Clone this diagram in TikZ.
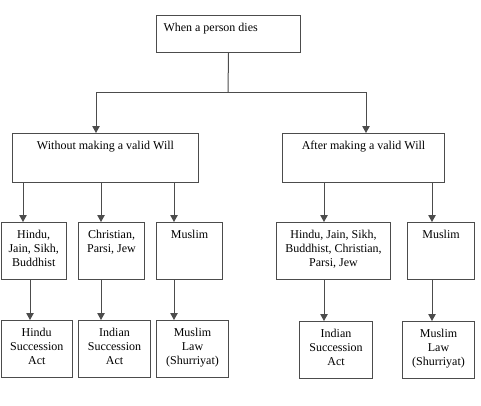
\documentclass[tikz,border=0pt]{standalone}
\usepackage{fontspec}
\setmainfont{Liberation Serif}
\usetikzlibrary{arrows.meta}
\begin{document}
\begin{tikzpicture}[x=1pt,y=-1pt,
    box/.style={draw=black!70, line width=1pt, anchor=north west, inner xsep=0pt, inner ysep=5.7pt, font=\fontsize{12}{14}\selectfont},
    link/.style={draw=black!70, line width=1pt},
    arrow/.style={link, -{Triangle[width=7.5pt,length=7pt]}}]

        \useasboundingbox (0,0) rectangle (481,405);

        %When a person dies
        \node[box, inner xsep=7pt] (death) at (156,15) {\parbox[t][25.6pt][t]{130pt}{\raggedright\strut When a person dies}};

        %the two cases
        \node[box] (nowill) at (12,133) {\parbox[t][37.6pt][t]{186pt}{\centering\strut Without making a valid Will}};
        \node[box] (will) at (282,133) {\parbox[t][37.6pt][t]{162pt}{\centering\strut After making a valid Will}};

        %religions, no will
        \node[box] (hindu) at (0.5,222) {\parbox[t][45.6pt][t]{65.5pt}{\centering\strut Hindu,\\ Jain, Sikh,\\ Buddhist}};
        \node[box] (christian) at (78,222) {\parbox[t][45.6pt][t]{66pt}{\centering\strut Christian,\\ Parsi, Jew}};
        \node[box] (muslim) at (156,222) {\parbox[t][45.6pt][t]{66pt}{\centering\strut Muslim}};

        %religions, with will
        \node[box] (allwill) at (276,222) {\parbox[t][45.6pt][t]{114pt}{\centering\strut Hindu, Jain, Sikh,\\ Buddhist, Christian,\\ Parsi, Jew}};
        \node[box] (muslimwill) at (407,222) {\parbox[t][45.6pt][t]{67pt}{\centering\strut Muslim}};

        %laws, no will
        \node[box] (hsa) at (0.5,320) {\parbox[t][45.6pt][t]{71.5pt}{\centering\strut Hindu\\ Succession\\ Act}};
        \node[box] (isa) at (78,320) {\parbox[t][45.6pt][t]{72pt}{\centering\strut Indian\\ Succession\\ Act}};
        \node[box] (mlaw) at (156,320) {\parbox[t][45.6pt][t]{72pt}{\centering\strut Muslim\\ Law\\ (Shurriyat)}};

        %laws, with will
        \node[box] (isawill) at (299,321) {\parbox[t][45.6pt][t]{73pt}{\centering\strut Indian\\ Succession\\ Act}};
        \node[box] (mlawwill) at (402,321) {\parbox[t][45.6pt][t]{72pt}{\centering\strut Muslim\\ Law\\ (Shurriyat)}};

        %x positions of the connectors
        \coordinate (split) at (228,92);
        \coordinate (xnowill) at (96,0);
        \coordinate (xwill) at (366,0);
        \coordinate (xhindu) at (23,0);
        \coordinate (xhsa) at (30,0);
        \coordinate (xchristian) at (101,0);
        \coordinate (xmuslim) at (174,0);
        \coordinate (xallwill) at (324,0);
        \coordinate (xmuslimwill) at (432,0);

        %split from the top box
        \draw[link] (death.south) -- (split);
        \draw[arrow] (split) -| (xnowill |- nowill.north);
        \draw[arrow] (split) -| (xwill |- will.north);

        %no will to religions
        \draw[arrow] (xhindu |- nowill.south) -- (xhindu |- hindu.north);
        \draw[arrow] (xchristian |- nowill.south) -- (xchristian |- christian.north);
        \draw[arrow] (xmuslim |- nowill.south) -- (xmuslim |- muslim.north);

        %will to religions
        \draw[arrow] (xallwill |- will.south) -- (xallwill |- allwill.north);
        \draw[arrow] (xmuslimwill |- will.south) -- (xmuslimwill |- muslimwill.north);

        %religions to laws
        \draw[arrow] (xhsa |- hindu.south) -- (xhsa |- hsa.north);
        \draw[arrow] (xchristian |- christian.south) -- (xchristian |- isa.north);
        \draw[arrow] (xmuslim |- muslim.south) -- (xmuslim |- mlaw.north);
        \draw[arrow] (xallwill |- allwill.south) -- (xallwill |- isawill.north);
        \draw[arrow] (xmuslimwill |- muslimwill.south) -- (xmuslimwill |- mlawwill.north);

    \end{tikzpicture}
\end{document}
